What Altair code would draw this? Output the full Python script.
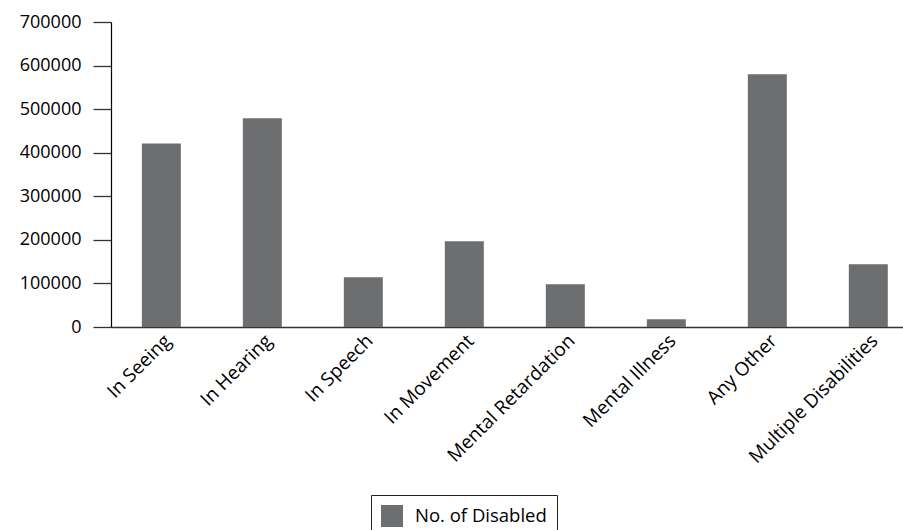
import altair as alt
import pandas as pd

# Disability categories and counts of disabled persons
categories = [
    "In Seeing",
    "In Hearing",
    "In Speech",
    "In Movement",
    "Mental Retardation",
    "Mental Illness",
    "Any Other",
    "Multiple Disabilities",
]
disabled_counts = [421000, 479000, 114000, 197000, 98000, 17600, 580000, 144000]
series_name = "No. of Disabled"
y_ticks = [0, 100000, 200000, 300000, 400000, 500000, 600000, 700000]

df = pd.DataFrame({
    "category": categories,
    "count": disabled_counts,
    "series": [series_name] * len(categories),
})

FONT = "Open Sans"
BAR_COLOR = "#6d6e70"

bars = alt.Chart(df).mark_bar(color=BAR_COLOR).encode(
    x=alt.X(
        "category:N",
        sort=categories,
        title=None,
        scale=alt.Scale(paddingInner=0.614, paddingOuter=0.228, align=0.67),
        axis=alt.Axis(
            labelAngle=-45,
            labelFont=FONT,
            labelFontSize=19,
            labelColor="#000000",
            labelPadding=4,
            ticks=False,
            grid=False,
            domainColor="#333333",
            domainWidth=1.5,
            labelOverlap=False,
        ),
    ),
    y=alt.Y(
        "count:Q",
        title=None,
        scale=alt.Scale(domain=[0, 700000], nice=False),
        axis=alt.Axis(
            values=y_ticks,
            format="d",
            grid=False,
            labelFont=FONT,
            labelFontSize=18,
            labelColor="#000000",
            labelPadding=12,
            tickSize=18,
            tickColor="#333333",
            tickWidth=1.3,
            domainColor="#000000",
            domainWidth=1.2,
        ),
    ),
    color=alt.Color(
        "series:N",
        scale=alt.Scale(domain=[series_name], range=[BAR_COLOR]),
        legend=alt.Legend(
            title=None,
            orient="none",
            legendX=260,
            legendY=473,
            symbolType="square",
            symbolSize=484,
            symbolStrokeWidth=0,
            labelFont=FONT,
            labelFontSize=18.5,
            labelColor="#000000",
            labelOffset=12,
            padding=10,
            strokeColor="#222222",
            fillColor="#ffffff",
        ),
    ),
)

chart = bars.properties(
    width=792,
    height=305,
    background="#ffffff",
    autosize=alt.AutoSizeParams(type="none"),
    padding={"left": 111, "top": 22, "right": 0, "bottom": 203},
).configure_view(stroke=None)

chart.save("out.html", embed_options={"renderer": "svg", "actions": False})
